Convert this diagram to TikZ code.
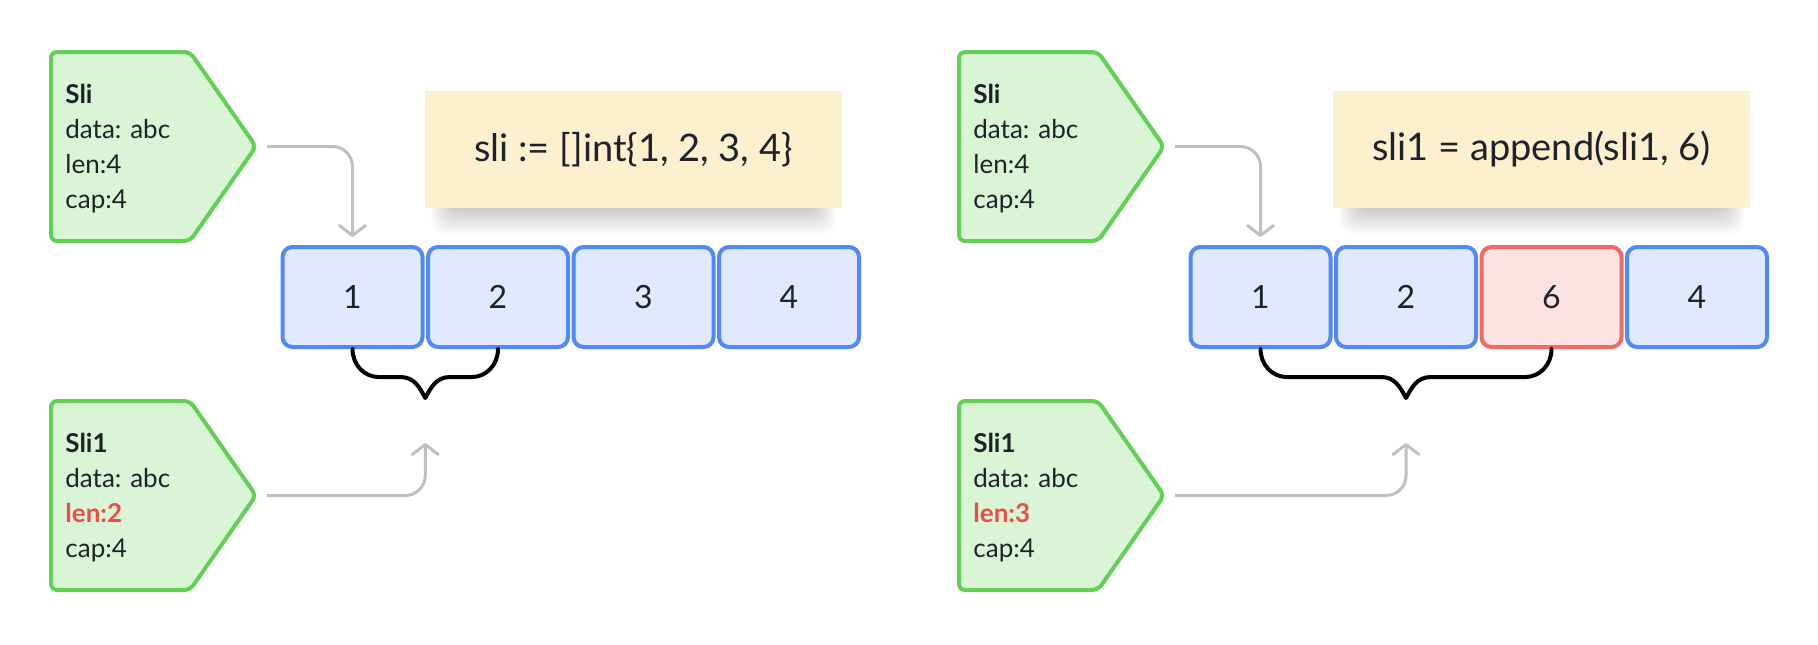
\documentclass[tikz,border=0pt]{standalone}
\usepackage{fontspec}
\setmainfont{Lato}
\usetikzlibrary{arrows.meta,calc}
\pgfdeclarelayer{bg}
\pgfsetlayers{bg,main}
\definecolor{gfill}{HTML}{D9F5D6}
\definecolor{gline}{HTML}{62CF55}
\definecolor{bfill}{HTML}{E0E9FD}
\definecolor{bline}{HTML}{5289F8}
\definecolor{rfill}{HTML}{FDE2E2}
\definecolor{rline}{HTML}{F26A63}
\definecolor{yfill}{HTML}{FDF0CF}
\definecolor{arr}{HTML}{BEC0C5}
\definecolor{txt}{HTML}{1F2329}
\definecolor{hired}{HTML}{F04B48}
\tikzset{
 pent/.style={draw=gline, fill=gfill, line width=2pt, rounded corners=3pt, line join=round},
 info/.style={anchor=west, align=left, inner sep=0pt, text=txt, font=\fontsize{13}{17.5}\selectfont},
 cell/.style={draw=bline, fill=bfill, line width=2pt, rounded corners=5pt, minimum width=70pt, minimum height=50pt, text=txt, font=\fontsize{16}{19}\selectfont, inner sep=0pt},
 newcell/.style={cell, draw=rline, fill=rfill},
 codebox/.style={fill=yfill, minimum width=208.5pt, minimum height=58.5pt, inner sep=0pt, text=txt, font=\fontsize{19}{23}\selectfont},
 softshadow/.style={fill=black, opacity=0.016, rounded corners=7pt},
 conn/.style={draw=arr, line width=1.5pt, rounded corners=10pt, -{Straight Barb[length=5pt,width=13pt,round]}},
 brace/.style={draw=black, line width=2pt, line cap=round, line join=round}
}
\begin{document}
\begin{tikzpicture}[x=0.5pt, y=-0.5pt]
\useasboundingbox (0,0) rectangle (1818,644);
\begin{pgfonlayer}{bg}
\fill[white] (0,0) rectangle (1818,644);
\end{pgfonlayer}
% pentagons
\foreach \dx/\dy in {0/0,908/0,0/349,908/349}{
 \begin{scope}[shift={(\dx,\dy)}]
  \draw[pent] (51,52) -- (190,52) -- (256,146.5) -- (190,241) -- (51,241) -- cycle;
 \end{scope}
}
\coordinate (tipTL) at (259,146.5);
\coordinate (tipBL) at (259,495.5);
\coordinate (tipTR) at (1167,146.5);
\coordinate (tipBR) at (1167,495.5);
\node[info] (sliL) at (65,149) {\textbf{Sli}\\data: abc\\len:4\\cap:4};
\node[info] (sli1L) at (65,498) {\textbf{Sli1}\\data: abc\\\textcolor{hired}{\textbf{len:2}}\\cap:4};
\node[info] (sliR) at (973,149) {\textbf{Sli}\\data: abc\\len:4\\cap:4};
\node[info] (sli1R) at (973,498) {\textbf{Sli1}\\data: abc\\\textcolor{hired}{\textbf{len:3}}\\cap:4};
% code boxes
\node[codebox] (codeL) at (633.5,149.5) {sli := []int\{1, 2, 3, 4\}};
\node[codebox] (codeR) at (1541.5,149.5) {sli1 = append(sli1, 6)};
% soft shadows under the code boxes
\begin{pgfonlayer}{bg}
\foreach \c in {codeL,codeR}{
 \foreach \k in {0,...,11}{
  \fill[softshadow] ($(\c.south west)+(24-1.6*\k,-40)$) rectangle ($(\c.south east)+(-24+1.6*\k,4+2*\k)$);
 }
}
\end{pgfonlayer}
% cells left
\node[cell] (a1) at (352.5,297) {1};
\node[cell] (a2) at (498,297) {2};
\node[cell] (a3) at (643.5,297) {3};
\node[cell] (a4) at (789,297) {4};
% cells right
\node[cell] (b1) at (1260.5,297) {1};
\node[cell] (b2) at (1406,297) {2};
\node[newcell] (b3) at (1551.5,297) {6};
\node[cell] (b4) at (1697,297) {4};
% braces
\coordinate (braceL) at ($(a1.south)!0.5!(a2.south)+(0,49)$);
\coordinate (braceR) at ($(b1.south)!0.5!(b3.south)+(0,49)$);
\draw[brace] (a1.south) .. controls +(0,16) and +(-14,0) .. ($(a1.south)+(26,28)$) -- ($(braceL)+(-25,-21)$) .. controls +(14,0) and +(-6,-11) .. (braceL) .. controls +(6,-11) and +(-14,0) .. ($(braceL)+(25,-21)$) -- ($(a2.south)+(-26,28)$) .. controls +(14,0) and +(0,16) .. (a2.south);
\draw[brace] (b1.south) .. controls +(0,16) and +(-14,0) .. ($(b1.south)+(26,28)$) -- ($(braceR)+(-25,-21)$) .. controls +(14,0) and +(-6,-11) .. (braceR) .. controls +(6,-11) and +(-14,0) .. ($(braceR)+(25,-21)$) -- ($(b3.south)+(-26,28)$) .. controls +(14,0) and +(0,16) .. (b3.south);
% connectors
\draw[conn] ([xshift=4pt]tipTL) -| ([yshift=4pt]a1.north);
\draw[conn] ([xshift=4pt]tipBL) -| ([yshift=-22.5pt]braceL);
\draw[conn] ([xshift=4pt]tipTR) -| ([yshift=4pt]b1.north);
\draw[conn] ([xshift=4pt]tipBR) -| ([yshift=-22.5pt]braceR);
\end{tikzpicture}
\end{document}
